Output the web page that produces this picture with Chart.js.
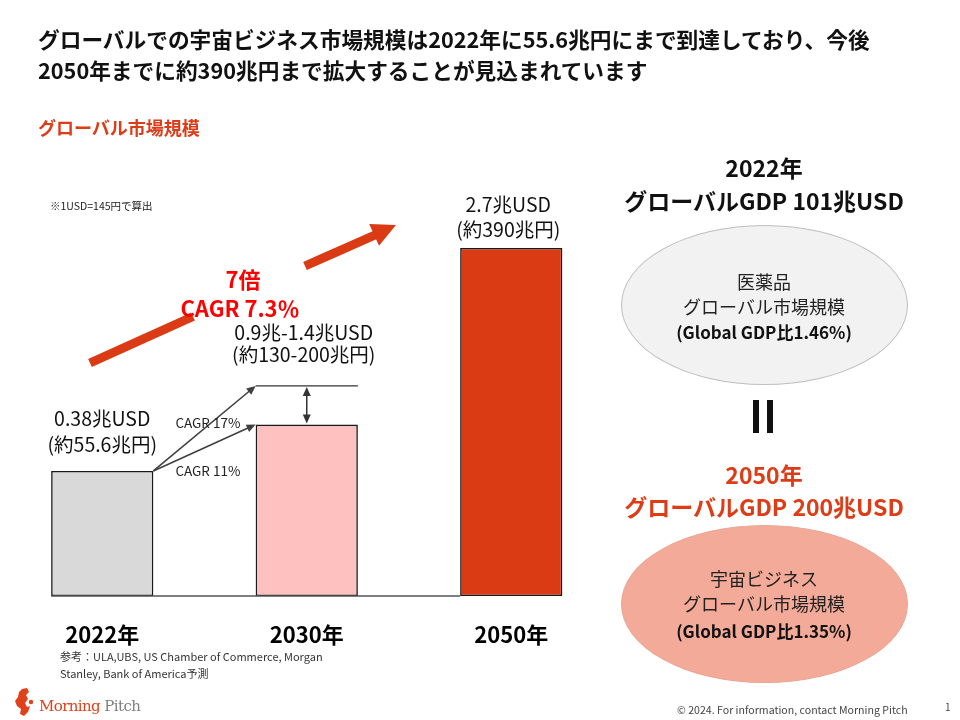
<!DOCTYPE html>
<html lang="ja">
<head>
<meta charset="utf-8">
<script src="https://cdn.jsdelivr.net/npm/chart.js@4.4.1/dist/chart.umd.min.js"></script>
<style>
  html, body { margin:0; padding:0; background:#fff; }
  body { width:960px; height:720px; position:relative; overflow:hidden;
         font-family:"Noto Sans CJK JP","Noto Sans",sans-serif; color:#111; }
  .t { position:absolute; white-space:nowrap; line-height:1; }
  .c { transform:translate(-50%,-50%); text-align:center; }
  .l { transform:translateY(-50%); }
  #chartWrap { position:absolute; left:0; top:0; width:960px; height:720px; }
  .ell { position:absolute; border-radius:50%; box-sizing:border-box; }
  .red { color:#de3c17; }
</style>
</head>
<body>
<svg width="960" height="720" style="position:absolute;left:0;top:0" id="deco">
  <!-- big red growth arrow -->
  <line x1="90" y1="363" x2="193" y2="316.5" stroke="#da3a14" stroke-width="9"/>
  <line x1="305" y1="266" x2="375" y2="235" stroke="#da3a14" stroke-width="9"/>
  <polygon points="396,225 379,245.8 369.2,224" fill="#da3a14"/>
  <!-- logo mark -->
  <path d="M22,689 L27,688 L29,692 L26,695 L28,699 L25,703 L27,707 L30,706 L28,712 L24,716 L20,714 L21,709 L17,706 L15,701 L18,697 L19,692 Z" fill="#e0401a"/>
  <circle cx="31" cy="702" r="2.2" fill="#e0401a"/>
</svg>
<div id="chartWrap"><canvas id="c" width="960" height="720"></canvas></div>

<div class="t l" style="left:38px;top:39px;font-size:21.7px;font-weight:700;">グローバルでの宇宙ビジネス市場規模は2022年に55.6兆円にまで到達しており、今後</div>
<div class="t l" style="left:38px;top:70px;font-size:21.7px;font-weight:700;">2050年までに約390兆円まで拡大することが見込まれています</div>
<div class="t l red" style="left:38px;top:127px;font-size:18px;font-weight:700;">グローバル市場規模</div>
<div class="t l" style="left:50px;top:206px;font-size:10.5px;color:#222;">※1USD=145円で算出</div>

<div class="t c" style="left:243px;top:278px;font-size:22px;font-weight:700;color:#ff0000;">7倍</div>
<div class="t c" style="left:240px;top:307px;font-size:22px;font-weight:700;color:#ff0000;">CAGR 7.3％</div>

<div class="t l" style="left:60px;top:656px;font-size:11px;color:#333;">参考：ULA,UBS, US Chamber of Commerce, Morgan</div>
<div class="t l" style="left:60px;top:673px;font-size:11px;color:#333;">Stanley, Bank of America予測</div>

<!-- right panel -->
<div class="t c" style="left:764px;top:167px;font-size:23px;font-weight:700;">2022年</div>
<div class="t c" style="left:764px;top:200px;font-size:23px;font-weight:700;">グローバルGDP 101兆USD</div>
<div class="ell" style="left:621px;top:225px;width:287px;height:160px;background:#f2f2f2;border:1.5px solid #bfbfbf;"></div>
<div class="t c" style="left:764px;top:281px;font-size:18px;color:#222;">医薬品</div>
<div class="t c" style="left:764px;top:306px;font-size:18px;color:#222;">グローバル市場規模</div>
<div class="t c" style="left:764px;top:331px;font-size:17px;font-weight:700;color:#111;">(Global GDP比1.46%)</div>

<div style="position:absolute;left:753px;top:400px;width:6px;height:33px;background:#111;"></div>
<div style="position:absolute;left:767px;top:400px;width:6px;height:33px;background:#111;"></div>

<div class="t c red" style="left:764px;top:474px;font-size:23px;font-weight:700;">2050年</div>
<div class="t c red" style="left:764px;top:506px;font-size:23px;font-weight:700;">グローバルGDP 200兆USD</div>
<div class="ell" style="left:621px;top:525px;width:287px;height:158px;background:#f4aa98;border:1.5px solid #eaa592;"></div>
<div class="t c" style="left:764px;top:578px;font-size:18px;color:#222;">宇宙ビジネス</div>
<div class="t c" style="left:764px;top:603px;font-size:18px;color:#222;">グローバル市場規模</div>
<div class="t c" style="left:764px;top:630px;font-size:17px;font-weight:700;color:#111;">(Global GDP比1.35%)</div>

<!-- footer -->
<div class="t l" style="left:39px;top:706px;font-size:15px;font-family:'DejaVu Serif','Liberation Serif',serif;letter-spacing:-0.6px;"><span style="color:#e0401a">Morning</span> <span style="color:#7f7f7f">Pitch</span></div>
<div class="t l" style="left:677px;top:710px;font-size:10.6px;color:#444;">© 2024. For information, contact Morning Pitch</div>
<div class="t l" style="left:945px;top:707px;font-size:10px;color:#444;">1</div>

<script>
// ---- data ----
const categories = ['2022年', '2030年', '2050年'];
// bar heights as drawn on the slide (the slide is not drawn to scale; 2050 = 2.7)
const barHeights = [0.97, 1.33, 2.7];
// upper end of the 2030 range as drawn
const rangeTop2030 = 1.63;
const usdLabels = ['0.38兆USD', '0.9兆-1.4兆USD', '2.7兆USD'];
const jpyLabels = ['(約55.6兆円)', '(約130-200兆円)', '(約390兆円)'];
const cagrLabels = ['CAGR 17%', 'CAGR 11%'];
const barColors = ['#d9d9d9', '#ffc0c0', '#da3a14'];

const FONT = '"Noto Sans CJK JP","Noto Sans",sans-serif';
const labelOffsets = [[52, 26], [53, 31], [43, 18]];

function arrowHead(ctx, x1, y1, x2, y2, len, half) {
  const a = Math.atan2(y2 - y1, x2 - x1);
  ctx.beginPath();
  ctx.moveTo(x2, y2);
  ctx.lineTo(x2 - len * Math.cos(a) + half * Math.sin(a), y2 - len * Math.sin(a) - half * Math.cos(a));
  ctx.lineTo(x2 - len * Math.cos(a) - half * Math.sin(a), y2 - len * Math.sin(a) + half * Math.cos(a));
  ctx.closePath();
  ctx.fill();
}
function arrowLine(ctx, x1, y1, x2, y2) {
  const a = Math.atan2(y2 - y1, x2 - x1);
  const L = 9;
  ctx.beginPath();
  ctx.moveTo(x1, y1);
  ctx.lineTo(x2 - L * 0.8 * Math.cos(a), y2 - L * 0.8 * Math.sin(a));
  ctx.stroke();
  arrowHead(ctx, x1, y1, x2, y2, L, 4);
}

const annot = {
  id: 'annot',
  afterDatasetsDraw(chart) {
    const ctx = chart.ctx;
    const y = chart.scales.y;
    const bars = chart.getDatasetMeta(0).data;
    const b0 = bars[0], b1 = bars[1], b2 = bars[2];
    const w = b0.width;
    ctx.save();
    // baseline
    ctx.strokeStyle = '#555';
    ctx.lineWidth = 1.5;
    ctx.beginPath();
    ctx.moveTo(b0.x - w / 2, b0.base);
    ctx.lineTo(b2.x - w / 2, b0.base);
    ctx.stroke();

    // range line for 2030
    const yTop = y.getPixelForValue(rangeTop2030);
    ctx.strokeStyle = '#333';
    ctx.lineWidth = 1.2;
    ctx.beginPath();
    ctx.moveTo(b1.x - w / 2, yTop);
    ctx.lineTo(b1.x + w / 2, yTop);
    ctx.stroke();
    // double arrow
    ctx.fillStyle = '#333';
    ctx.lineWidth = 1.5;
    ctx.beginPath();
    ctx.moveTo(b1.x, yTop + 8);
    ctx.lineTo(b1.x, b1.y - 8);
    ctx.stroke();
    arrowHead(ctx, b1.x, b1.y, b1.x, yTop + 1, 9, 4);
    arrowHead(ctx, b1.x, yTop, b1.x, b1.y - 1, 9, 4);

    // CAGR arrows
    ctx.strokeStyle = '#404040';
    ctx.fillStyle = '#404040';
    ctx.lineWidth = 1.6;
    arrowLine(ctx, b0.x + w / 2, b0.y, b1.x - w / 2, yTop);
    arrowLine(ctx, b0.x + w / 2, b0.y, b1.x - w / 2, b1.y);

    ctx.font = '13.5px ' + FONT;
    ctx.fillStyle = '#222';
    ctx.textAlign = 'left';
    ctx.textBaseline = 'middle';
    ctx.fillText(cagrLabels[0], b0.x + w / 2 + 22, b1.y - 2);
    ctx.fillText(cagrLabels[1], b0.x + w / 2 + 22, b0.y);

    // value labels
    ctx.textAlign = 'center';
    ctx.fillStyle = '#111';
    ctx.font = '19.5px ' + FONT;
    bars.forEach((b, i) => {
      const top = i === 1 ? yTop : b.y;
      ctx.fillText(usdLabels[i], b.x - (i ? 3 : 0), top - labelOffsets[i][0]);
      ctx.fillText(jpyLabels[i], b.x - (i ? 3 : 0), top - labelOffsets[i][1]);
    });
    ctx.restore();
  }
};

new Chart(document.getElementById('c'), {
  type: 'bar',
  data: {
    labels: categories,
    datasets: [{
      data: barHeights,
      backgroundColor: barColors,
      borderColor: '#1a1a1a',
      borderWidth: 1.6,
      borderSkipped: false,
      barPercentage: 0.5,
      categoryPercentage: 1.0
    }]
  },
  options: {
    responsive: false,
    animation: false,
    layout: { padding: { left: 0, right: 346.5, top: 209.3, bottom: 47.6 } },
    plugins: { legend: { display: false }, tooltip: { enabled: false } },
    scales: {
      x: {
        grid: { display: false, drawTicks: false },
        border: { display: false },
        ticks: { color: '#000', padding: 25, font: { family: FONT, size: 22, weight: 'bold' } }
      },
      y: { display: false, min: 0, max: 3 }
    }
  },
  plugins: [annot]
});
</script>
</body>
</html>
